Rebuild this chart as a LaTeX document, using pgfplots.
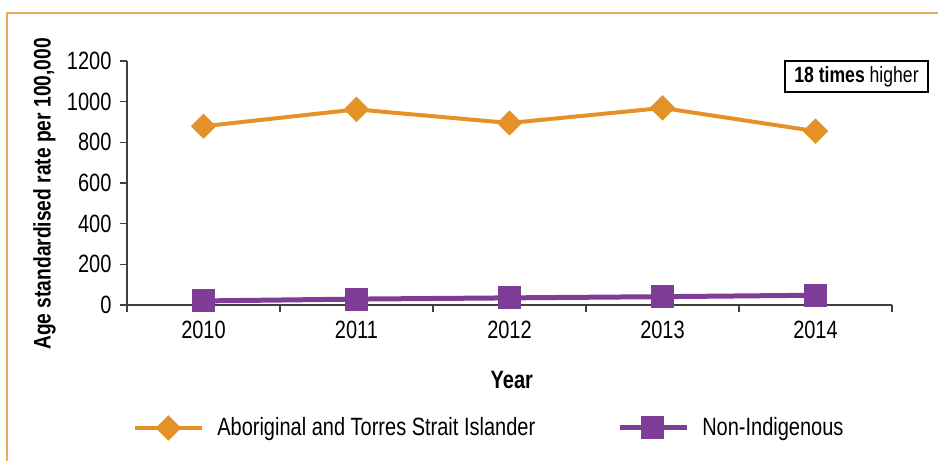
\documentclass[border=0pt]{standalone}
\usepackage{pgfplots}
\pgfplotsset{compat=1.18}
\usepackage{fontspec}
\setmainfont{Liberation Sans}[FakeStretch=0.8]
\definecolor{aborig}{RGB}{228,146,40}
\definecolor{nonind}{RGB}{128,61,151}
\definecolor{frameor}{RGB}{233,168,90}
\definecolor{axisgray}{RGB}{64,64,64}
\begin{document}
\fontsize{25}{29}\selectfont
\begin{tikzpicture}
\useasboundingbox (0,0) rectangle (938pt,461pt);
\draw[frameor, line width=1.8pt] (7pt,0) -- (7pt,448pt) -- (938pt,448pt);
\begin{axis}[
  at={(127pt,156pt)}, anchor=south west,
  scale only axis, width=765pt, height=244pt,
  xmin=-0.5, xmax=4.5, ymin=0, ymax=1200,
  axis lines*=left,
  axis line style={axisgray, line width=1.5pt},
  every tick/.style={axisgray, line width=1.3pt},
  tick align=outside, major tick length=7pt,
  xtick={-0.5,0.5,1.5,2.5,3.5,4.5}, xticklabels={},
  extra x ticks={0,1,2,3,4},
  extra x tick labels={2010,2011,2012,2013,2014},
  extra x tick style={major tick length=0pt},
  xticklabel style={yshift=-8pt},
  ytick={0,200,...,1200},
  /pgf/number format/assume math mode=true,
  /pgf/number format/1000 sep={},
  tick label style={font=\fontsize{25}{29}\selectfont},
  ylabel={\bfseries Age standardised rate per 100,000},
  ylabel style={at={(axis description cs:-0.108,0.455)}, anchor=center, font=\fontsize{24}{28}\selectfont},
  xlabel={\bfseries Year},
  xlabel style={at={(axis description cs:0.503,-0.307)}, anchor=center, font=\fontsize{25}{29}\selectfont},
  legend columns=2,
  legend style={at={(axis description cs:0.008,-0.504)}, anchor=west, draw=none, fill=none,
    inner sep=0pt, font=\fontsize{25}{29}\selectfont,
    /tikz/every odd column/.append style={column sep=11pt},
    /tikz/every even column/.append style={column sep=80pt},
    cells={anchor=west}},
  legend image code/.code={\draw[#1, mark repeat=2, mark phase=2] plot coordinates {(0pt,0pt)(33pt,0pt)(67pt,0pt)};},
]
\addplot[aborig, line width=4pt, mark=square*, mark size=7pt, mark options={rotate=45, solid}]
  coordinates {(0,879) (1,962) (2,895) (3,969) (4,855)};
\addlegendentry{Aboriginal and Torres Strait Islander}
\addplot[nonind, line width=5pt, mark=square*, mark size=9pt, mark options={solid}]
  coordinates {(0,20) (1,29) (2,35) (3,41) (4,48)};
\addlegendentry{Non-Indigenous}
\end{axis}
\node[draw=black, line width=1.3pt, minimum width=143pt, minimum height=31pt, inner sep=2pt,
  font=\fontsize{22}{26}\selectfont] at (856.5pt,384.5pt) {\textbf{18 times} higher};
\end{tikzpicture}
\end{document}
